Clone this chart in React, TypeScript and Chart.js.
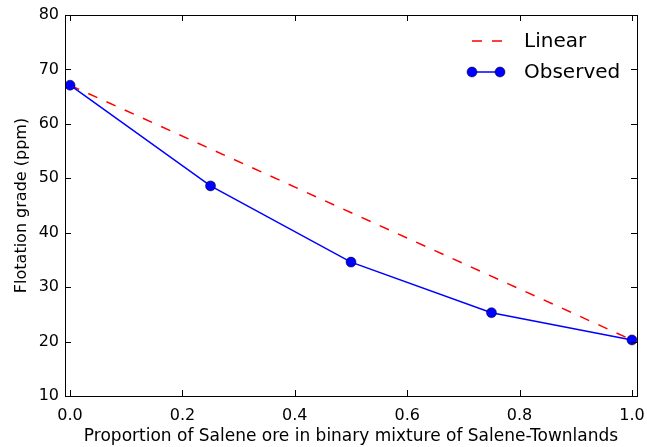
import React, { useEffect, useRef } from "react";
import { Chart, registerables } from "chart.js";

Chart.register(...registerables);

const proportions = [0.0, 0.25, 0.5, 0.75, 1.0];
const observed = [67.1, 48.6, 34.6, 25.3, 20.3];
const linearX = [0.0, 1.0];
const linearY = [67.1, 20.3];
const xTicks = [0.0, 0.2, 0.4, 0.6, 0.8, 1.0];
const yTicks = [10, 20, 30, 40, 50, 60, 70, 80];

const FONT = "'DejaVu Sans', sans-serif";

const frameTicks = {
  id: "frameTicks",
  afterDraw(chart: any) {
    const { ctx, chartArea: a, scales } = chart;
    const xs = scales.x;
    const ys = scales.y;
    ctx.save();
    ctx.strokeStyle = "#000";
    ctx.lineWidth = 1;
    ctx.strokeRect(Math.round(a.left) + 0.5, Math.round(a.top) + 0.5, Math.round(a.right - a.left), Math.round(a.bottom - a.top));
    const L = 6;
    ctx.beginPath();
    xTicks.forEach((v) => {
      const px = Math.round(xs.getPixelForValue(v)) + 0.5;
      ctx.moveTo(px, a.bottom);
      ctx.lineTo(px, a.bottom - L);
      ctx.moveTo(px, a.top);
      ctx.lineTo(px, a.top + L);
    });
    yTicks.forEach((v) => {
      const py = Math.round(ys.getPixelForValue(v)) + 0.5;
      ctx.moveTo(a.left, py);
      ctx.lineTo(a.left + L, py);
      ctx.moveTo(a.right, py);
      ctx.lineTo(a.right - L, py);
    });
    ctx.stroke();

    // legend
    ctx.font = "20px " + FONT;
    ctx.fillStyle = "#000";
    ctx.textBaseline = "middle";
    ctx.textAlign = "left";
    const y1 = 41;
    const y2 = 72;
    ctx.strokeStyle = "#ff0000";
    ctx.lineWidth = 1.5;
    ctx.setLineDash([10, 10]);
    ctx.beginPath();
    ctx.moveTo(472, y1);
    ctx.lineTo(502, y1);
    ctx.stroke();
    ctx.setLineDash([]);
    ctx.strokeStyle = "#0000ff";
    ctx.beginPath();
    ctx.moveTo(472, y2);
    ctx.lineTo(500, y2);
    ctx.stroke();
    [472, 500].forEach((cx) => {
      ctx.beginPath();
      ctx.arc(cx, y2, 5, 0, Math.PI * 2);
      ctx.fillStyle = "#0000ff";
      ctx.fill();
      ctx.strokeStyle = "#000";
      ctx.lineWidth = 0.5;
      ctx.stroke();
    });
    ctx.fillStyle = "#000";
    ctx.fillText("Linear", 524, y1 + 1);
    ctx.fillText("Observed", 524, y2 + 1);
    ctx.restore();
  },
};

export default function App() {
  const ref = useRef<HTMLCanvasElement | null>(null);
  useEffect(() => {
    document.body.style.margin = "0";
    const canvas = ref.current!;
    const chart = new Chart(canvas, {
      type: "line",
      data: {
        datasets: [
          {
            label: "Observed",
            data: proportions.map((x, i) => ({ x, y: observed[i] })),
            borderColor: "#0000ff",
            borderWidth: 1.5,
            pointRadius: 5,
            pointBackgroundColor: "#0000ff",
            pointBorderColor: "#000",
            pointBorderWidth: 0.5,
            tension: 0,
            order: 0,
          },
          {
            label: "Linear",
            data: linearX.map((x, i) => ({ x, y: linearY[i] })),
            borderColor: "#ff0000",
            borderWidth: 1.5,
            borderDash: [10, 10],
            pointRadius: 0,
            tension: 0,
            order: 1,
          },
        ],
      },
      options: {
        animation: false,
        responsive: false,
        devicePixelRatio: 1,
        layout: { padding: { top: 15, right: 10, left: 0, bottom: 0 } },
        plugins: { legend: { display: false }, tooltip: { enabled: false } },
        scales: {
          x: {
            type: "linear",
            min: -0.009,
            max: 1.009,
            grid: { display: false, drawTicks: false },
            border: { display: false },
            afterBuildTicks: (s: any) => {
              s.ticks = xTicks.map((v) => ({ value: v }));
            },
            afterFit: (s: any) => {
              s.height = 51;
              s.paddingLeft = 0;
              s.paddingRight = 0;
            },
            ticks: {
              color: "#000",
              font: { family: FONT, size: 16 },
              padding: 10,
              maxRotation: 0,
              autoSkip: false,
              callback: (v: any) => Number(v).toFixed(1),
            },
            title: {
              display: true,
              text: "Proportion of Salene ore in binary mixture of Salene-Townlands",
              color: "#000",
              font: { family: FONT, size: 17 },
              padding: { top: 0, bottom: 0 },
            },
          },
          y: {
            type: "linear",
            min: 10,
            max: 80,
            grid: { display: false, drawTicks: false },
            border: { display: false },
            afterBuildTicks: (s: any) => {
              s.ticks = yTicks.map((v) => ({ value: v }));
            },
            afterFit: (s: any) => {
              s.width = 65;
              s.paddingTop = 0;
              s.paddingBottom = 0;
            },
            ticks: {
              color: "#000",
              font: { family: FONT, size: 16 },
              padding: 6,
              autoSkip: false,
            },
            title: {
              display: true,
              text: "Flotation grade (ppm)",
              color: "#000",
              font: { family: FONT, size: 16 },
              padding: { top: 12, bottom: 0 },
            },
          },
        },
      },
      plugins: [frameTicks],
    });
    return () => chart.destroy();
  }, []);
  return (
    <div style={{ position: "absolute", left: 0, top: 0, width: 647, height: 447 }}>
      <canvas ref={ref} width={647} height={447} style={{ width: 647, height: 447, display: "block" }} />
    </div>
  );
}
